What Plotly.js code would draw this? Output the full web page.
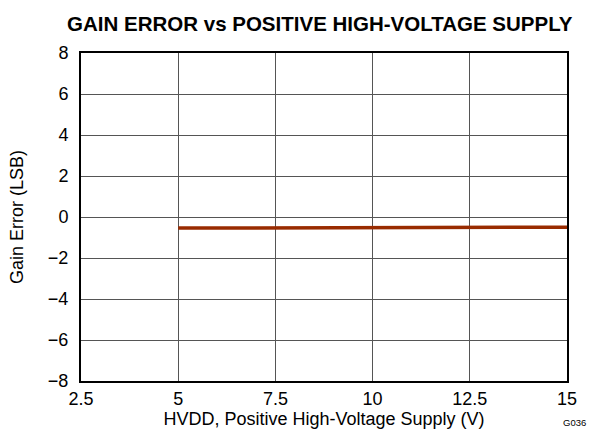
<!DOCTYPE html>
<html>
<head>
<meta charset="utf-8">
<script src="https://cdn.plot.ly/plotly-3.0.1.min.js"></script>
<style>html,body{margin:0;padding:0;background:#fff;}#chart{width:590px;height:434px;}</style>
</head>
<body>
<div id="chart"></div>
<script>
const hvdd = [5, 6, 7, 8, 9, 10, 11, 12, 13, 14, 15];
const gainError = [-0.54, -0.54, -0.53, -0.53, -0.52, -0.52, -0.52, -0.51, -0.51, -0.50, -0.50];
const xTicks = [2.5, 5, 7.5, 10, 12.5, 15];
const xTickText = ['2.5', '5', '7.5', '10', '12.5', '15'];
const yTicks = [-8, -6, -4, -2, 0, 2, 4, 6, 8];
const yTickText = ['\u22128', '\u22126', '\u22124', '\u22122', '0', '2', '4', '6', '8'];

const font = 'Liberation Sans, Arial, sans-serif';
Plotly.newPlot('chart', [{
  x: hvdd, y: gainError, type: 'scatter', mode: 'lines',
  line: {color: '#992b00', width: 3.5}, showlegend: false, hoverinfo: 'none'
}], {
  width: 590, height: 434,
  margin: {l: 81, r: 23, t: 53, b: 53},
  paper_bgcolor: '#fff', plot_bgcolor: '#fff',
  font: {family: font, color: '#000', size: 18},
  title: {text: '<b>GAIN ERROR vs POSITIVE HIGH-VOLTAGE SUPPLY</b>', font: {family: font, size: 20.5, color: '#000'}, x: 0.542, xanchor: 'center', y: 0.946, yanchor: 'middle'},
  xaxis: {
    range: [2.5, 15], tickvals: xTicks, ticktext: xTickText, showgrid: true, gridcolor: '#555', gridwidth: 1,
    zeroline: false, showline: true, linecolor: '#000', linewidth: 2, mirror: true, ticks: '',
    title: {text: 'HVDD, Positive High-Voltage Supply (V)', font: {size: 18}, standoff: 0},
    tickfont: {size: 18}
  },
  yaxis: {
    range: [-8, 8], tickvals: yTicks, ticktext: yTickText, showgrid: true, gridcolor: '#555', gridwidth: 1,
    zeroline: false, showline: true, linecolor: '#000', linewidth: 2, mirror: true,
    ticks: 'outside', ticklen: 7, tickcolor: 'rgba(0,0,0,0)',
    title: {text: 'Gain Error (LSB)', font: {size: 18}, standoff: 20},
    tickfont: {size: 18}
  },
  annotations: [{text: 'G036', xref: 'paper', yref: 'paper', x: 1.043, y: -0.128, xanchor: 'right', yanchor: 'middle', showarrow: false, font: {size: 9.5, color: '#000'}}]
}, {displayModeBar: false, staticPlot: true});
</script>
</body>
</html>
